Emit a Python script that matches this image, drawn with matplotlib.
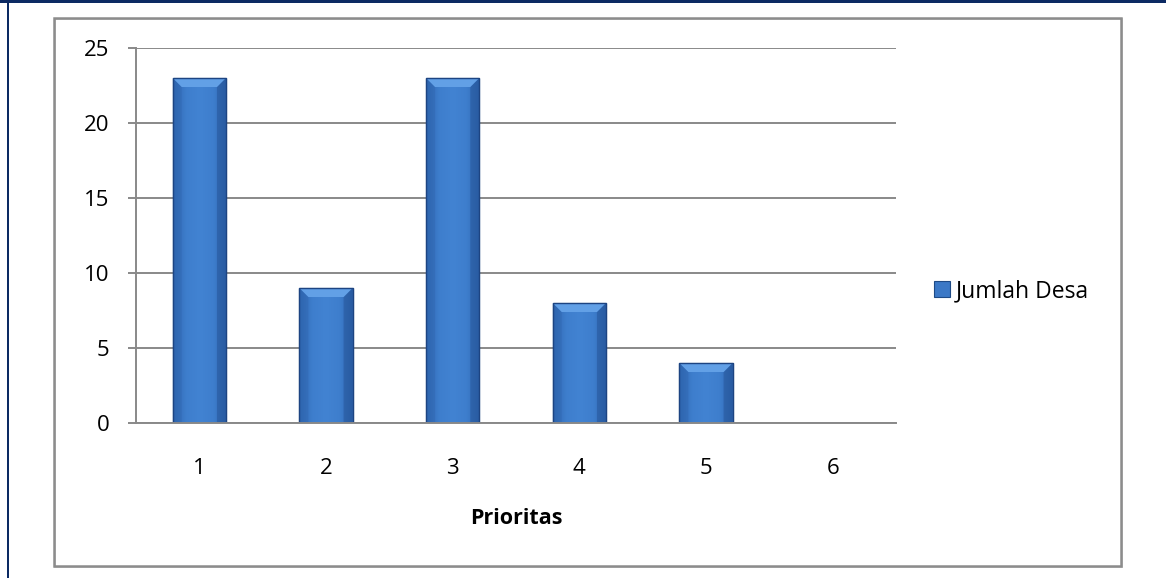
import numpy as np
import matplotlib
matplotlib.use("Agg")
import matplotlib.pyplot as plt
from matplotlib.patches import Rectangle, Polygon
from matplotlib.colors import LinearSegmentedColormap

categories = ["1", "2", "3", "4", "5", "6"]
values = [23, 9, 23, 8, 4, 0]
series_name = "Jumlah Desa"
x_title = "Prioritas"
y_ticks = [0, 5, 10, 15, 20, 25]

FONT = ["Open Sans", "DejaVu Sans"]
plt.rcParams["font.family"] = FONT

W, H, DPI = 1166, 578, 100
fig = plt.figure(figsize=(W / DPI, H / DPI), dpi=DPI)
fig.patch.set_facecolor("white")

# outer navy frame (top + left)
fig.patches.append(Rectangle((0, 1 - 3 / H), 1, 3 / H, transform=fig.transFigure,
                             facecolor="#0c2a63", edgecolor="none", zorder=0))
fig.patches.append(Rectangle((6.5 / W, 0), 2.5 / W, 1, transform=fig.transFigure,
                             facecolor="#0c2a63", edgecolor="none", zorder=0))
# inner chart-area frame with shadow
fx0, fy0, fx1, fy1 = 54, 18, 1121, 566
fig.patches.append(Rectangle(((fx0 + 1.2) / W, 1 - (fy1 + 1.2) / H), (fx1 - fx0) / W, (fy1 - fy0) / H,
                             transform=fig.transFigure, facecolor="none", edgecolor="#c8c8c8",
                             linewidth=1.2, zorder=0))
fig.patches.append(Rectangle((fx0 / W, 1 - fy1 / H), (fx1 - fx0) / W, (fy1 - fy0) / H,
                             transform=fig.transFigure, facecolor="none", edgecolor="#8c8c8c",
                             linewidth=1.8, zorder=0))

ax_l, ax_r, ax_t, ax_b = 136, 896, 48, 423
ax = fig.add_axes([ax_l / W, 1 - ax_b / H, (ax_r - ax_l) / W, (ax_b - ax_t) / H])
ax.set_facecolor("none")

x = np.arange(len(categories))
bw = 0.42
ax.set_xlim(-0.5, len(categories) - 0.5)
ax.set_ylim(0, 25)

bars = ax.bar(x, values, width=bw, color="#3b78c6", edgecolor="#1e4a86", linewidth=0.8, zorder=3)

# bevel / gradient effect computed from each bar
px_x = (len(categories)) / (ax_r - ax_l)   # data units per pixel (x)
px_y = 25 / (ax_b - ax_t)                  # data units per pixel (y)
cmap = LinearSegmentedColormap.from_list("bev", ["#2f66b0", "#3e7ecd", "#4283d2", "#3e7ecd", "#2f66b0"])
grad = np.linspace(0, 1, 256).reshape(1, -1)
for b, v in zip(bars, values):
    if v <= 0:
        continue
    x0 = b.get_x()
    x1 = x0 + b.get_width()
    im = ax.imshow(grad, extent=(x0, x1, 0, v), aspect="auto", cmap=cmap, zorder=3.1,
                   interpolation="bilinear")
    im.set_clip_path(b)
    dx = 9 * px_x
    dy = 9 * px_y
    top = Polygon([(x0, v), (x1, v), (x1 - dx, v - dy), (x0 + dx, v - dy)],
                  closed=True, facecolor="#62a0e6", edgecolor="none", zorder=3.3)
    ax.add_patch(top)
    left = Polygon([(x0, v), (x0 + dx, v - dy), (x0 + dx, 0), (x0, 0)],
                   closed=True, facecolor="#2d62ab", edgecolor="none", alpha=0.35, zorder=3.2)
    ax.add_patch(left)
    right = Polygon([(x1, v), (x1 - dx, v - dy), (x1 - dx, 0), (x1, 0)],
                    closed=True, facecolor="#224f90", edgecolor="none", alpha=0.45, zorder=3.2)
    ax.add_patch(right)
    ax.add_patch(Rectangle((x0, 0), x1 - x0, v, facecolor="none", edgecolor="#1d4482",
                           linewidth=1.0, zorder=3.4))

grid_c = "#898989"
ax.set_yticks(y_ticks)
ax.yaxis.grid(True, color=grid_c, linewidth=1.4, zorder=1)
ax.set_axisbelow(True)
for s in ["top", "right"]:
    ax.spines[s].set_visible(False)
ax.spines["left"].set_color(grid_c)
ax.spines["left"].set_linewidth(1.4)
ax.spines["bottom"].set_color(grid_c)
ax.spines["bottom"].set_linewidth(1.4)
ax.spines["bottom"].set_zorder(4)

ax.set_xticks(x)
ax.set_xticklabels(categories)
ax.tick_params(axis="y", length=6, width=1.4, color=grid_c, pad=13, labelsize=16)
ax.tick_params(axis="x", length=0, pad=25, labelsize=16)
ax.set_xlabel(x_title, fontsize=15.5, fontweight="bold", labelpad=21)

leg = ax.legend([bars], [series_name], loc="center left",
                bbox_to_anchor=((934 - ax_l) / (ax_r - ax_l), 1 - (291 - ax_t) / (ax_b - ax_t)),
                frameon=False, fontsize=16.5, handlelength=0.7, handleheight=0.7,
                handletextpad=0.25, borderaxespad=0, borderpad=0)

fig.savefig("out.png", dpi=DPI)
